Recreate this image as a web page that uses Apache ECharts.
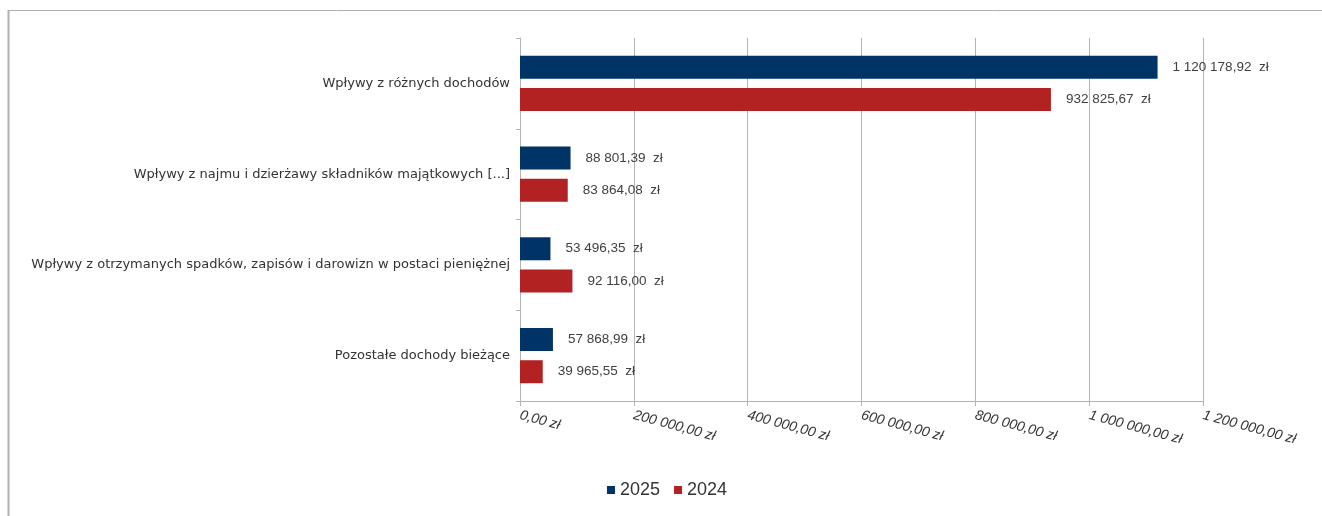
<!DOCTYPE html>
<html><head><meta charset="utf-8">
<script src="https://cdn.jsdelivr.net/npm/echarts@6/dist/echarts.min.js"></script>
<style>html,body{margin:0;padding:0;background:#fff}#c{width:1322px;height:516px}</style>
</head><body><div id="c"></div>
<script>
const categories = [
  'Wpływy z różnych dochodów',
  'Wpływy z najmu i dzierżawy składników majątkowych [...]',
  'Wpływy z otrzymanych spadków, zapisów i darowizn w postaci pieniężnej',
  'Pozostałe dochody bieżące'
];
const values2025 = [1120178.92, 88801.39, 53496.35, 57868.99];
const values2024 = [932825.67, 83864.08, 92116.00, 39965.55];
const seriesNames = ['2025', '2024'];

function fmt(v) {
  const parts = v.toFixed(2).split('.');
  const intp = parts[0].replace(/\B(?=(\d{3})+(?!\d))/g, ' ');
  return intp + ',' + parts[1];
}
const font = 'Liberation Sans, Arial, sans-serif';
const chart = echarts.init(document.getElementById('c'));
chart.setOption({
  animation: false,
  textStyle: { fontFamily: font },
  grid: { left: 520, right: 119, top: 38, bottom: 115 },
  graphic: [
    { type: 'line', shape: { x1: 8, y1: 10.5, x2: 1322, y2: 10.5 }, style: { stroke: '#b0b0b0', lineWidth: 1 } },
    { type: 'line', shape: { x1: 8.5, y1: 10, x2: 8.5, y2: 516 }, style: { stroke: '#b0b0b0', lineWidth: 2 } }
  ],
  legend: {
    top: 476, left: 602,
    itemWidth: 8, itemHeight: 8, itemGap: 14,
    icon: 'rect',
    textStyle: { fontSize: 18, color: '#333', fontFamily: font },
    data: seriesNames
  },
  xAxis: {
    type: 'value', min: 0, max: 1200000, interval: 200000,
    axisLine: { show: true, lineStyle: { color: '#b3b3b3', width: 1 } },
    axisTick: { show: true, length: 5, lineStyle: { color: '#b3b3b3' } },
    splitLine: { show: true, lineStyle: { color: '#b3b3b3', width: 1 } },
    axisLabel: {
      rotate: -15, margin: 14, fontSize: 14, color: '#333', fontStyle: 'italic',
      formatter: v => fmt(v) + ' zł'
    }
  },
  yAxis: {
    type: 'category', inverse: true, data: categories,
    axisLine: { show: true, lineStyle: { color: '#b3b3b3' } },
    axisTick: { show: true, length: 4, lineStyle: { color: '#b3b3b3' } },
    axisLabel: { fontSize: 13, color: '#333', margin: 10, fontFamily: 'DejaVu Sans' }
  },
  series: [
    {
      name: seriesNames[0], type: 'bar', data: values2025,
      barWidth: 23, barGap: '40%',
      itemStyle: { color: '#003366' },
      label: { show: true, position: 'right', distance: 15, fontSize: 13.5, color: '#404040',
        formatter: p => fmt(p.value) + '  zł' }
    },
    {
      name: seriesNames[1], type: 'bar', data: values2024,
      barWidth: 23, barGap: '40%',
      itemStyle: { color: '#b22222' },
      label: { show: true, position: 'right', distance: 15, fontSize: 13.5, color: '#404040',
        formatter: p => fmt(p.value) + '  zł' }
    }
  ]
});
</script></body></html>
